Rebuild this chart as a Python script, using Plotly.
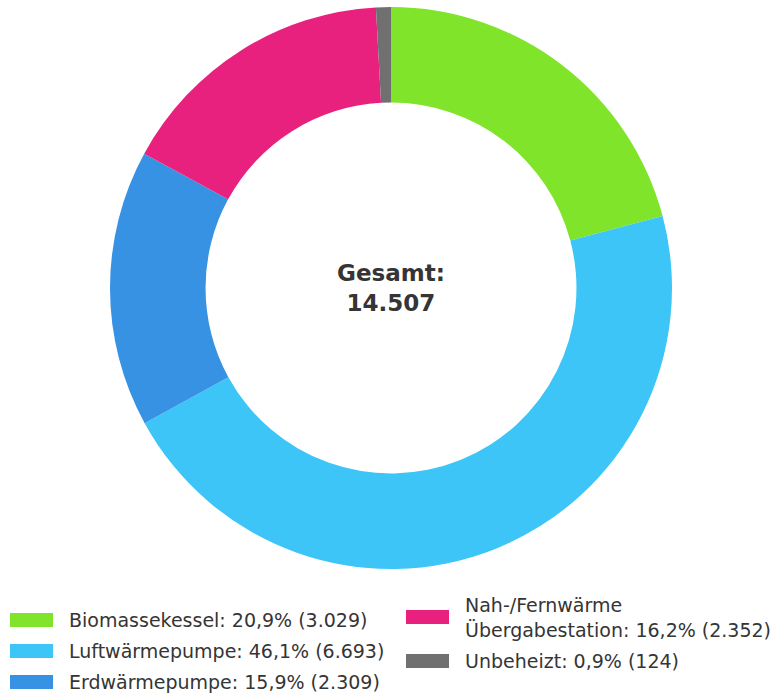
import plotly.graph_objects as go

labels = ["Biomassekessel", "Luftwärmepumpe", "Erdwärmepumpe",
          "Nah-/Fernwärme<br>Übergabestation", "Unbeheizt"]
values = [3029, 6693, 2309, 2352, 124]
percents = ["20,9%", "46,1%", "15,9%", "16,2%", "0,9%"]
value_labels = ["3.029", "6.693", "2.309", "2.352", "124"]
colors = ["#80E52A", "#3CC5F6", "#3792E4", "#E8207E", "#707070"]
total_label = "14.507"

W, H = 776, 694
FONT = "'DejaVu Sans', sans-serif"
TXT = "#353535"


def px(x):
    return x / W


def py(y):
    return min(1.0, max(0.0, 1 - y / H))


cx, cy, r = 391, 288, 281
fig = go.Figure(go.Pie(
    labels=labels, values=values, hole=0.66, sort=False, direction="clockwise",
    rotation=0, marker=dict(colors=colors, line=dict(width=0)),
    textinfo="none", hoverinfo="label+value+percent", showlegend=False,
    domain=dict(x=[px(cx - r), px(cx + r)], y=[py(cy + r), py(cy - r)]),
))

fig.add_annotation(x=px(cx), y=py(cy), xref="paper", yref="paper",
                   text="<b>Gesamt:<br>" + total_label + "</b>", showarrow=False,
                   font=dict(family=FONT, size=23, color=TXT), align="center")

# custom legend: two columns
positions = [(10, 620), (10, 651), (10, 682), (406, 617), (406, 661)]
shapes = []
for (x0, yc), lab, pct, vl, col in zip(positions, labels, percents, value_labels, colors):
    shapes.append(dict(type="rect", xref="paper", yref="paper",
                       x0=px(x0), x1=px(x0 + 43),
                       y0=py(yc + 7), y1=py(yc - 7),
                       fillcolor=col, line=dict(width=0)))
    fig.add_annotation(x=px(x0 + 57), y=py(yc), xref="paper", yref="paper",
                       xanchor="left", yanchor="middle", showarrow=False, align="left",
                       text=f"{lab}: {pct} ({vl})",
                       font=dict(family=FONT, size=19, color=TXT))

fig.update_layout(width=W, height=H, margin=dict(l=0, r=0, t=0, b=0),
                  paper_bgcolor="white", plot_bgcolor="white", shapes=shapes)
fig.write_html("out.html", config={"displayModeBar": False},
               post_script="document.body.style.margin='0';document.body.style.overflow='hidden';")
